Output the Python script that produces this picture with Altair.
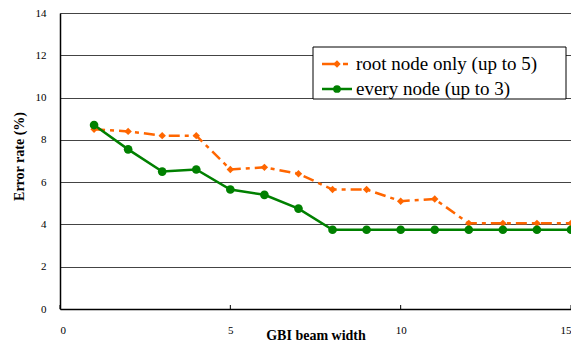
import altair as alt
import pandas as pd

beam = list(range(1, 16))
root_only = [8.5, 8.4, 8.2, 8.2, 6.6, 6.7, 6.4, 5.65, 5.65, 5.1, 5.2, 4.05, 4.05, 4.05, 4.05]
every_node = [8.7, 7.55, 6.5, 6.6, 5.65, 5.4, 4.75, 3.75, 3.75, 3.75, 3.75, 3.75, 3.75, 3.75, 3.75]
series_names = ["root node only (up to 5)", "every node (up to 3)"]
colors = ["#FF6600", "#008000"]
x_ticks = [0, 5, 10, 15]
y_ticks = [0, 2, 4, 6, 8, 10, 12, 14]

FONT = "Liberation Serif"
W, H = 511, 296

df_root = pd.DataFrame({"beam": beam, "err": root_only})
df_every = pd.DataFrame({"beam": beam, "err": every_node})

xs = alt.Scale(domain=[0, 15], nice=False)
ys = alt.Scale(domain=[0, 14], nice=False)
xax = alt.Axis(values=x_ticks, title="GBI beam width", grid=False, ticks=False,
               labelPadding=15, titleY=30, titleBaseline="alphabetic")
yax = alt.Axis(values=y_ticks, title="Error rate (%)", grid=True, ticks=False,
               labelPadding=14, titleX=-37, titleY=143, titleAngle=-90,
               titleAlign="center", titleBaseline="alphabetic")

base_x = alt.X("beam:Q", scale=xs, axis=xax)
base_y = alt.Y("err:Q", scale=ys, axis=yax)

root_line = alt.Chart(df_root).mark_line(color=colors[0], strokeWidth=2.5,
                                          strokeDash=[11, 5, 4, 5]).encode(x=base_x, y=base_y)
root_pts = alt.Chart(df_root).mark_point(shape="diamond", filled=True, color=colors[0],
                                         size=55, opacity=1).encode(x="beam:Q", y="err:Q")
every_line = alt.Chart(df_every).mark_line(color=colors[1], strokeWidth=2.5).encode(x="beam:Q", y="err:Q")
every_pts = alt.Chart(df_every).mark_circle(color=colors[1], size=75, opacity=1).encode(x="beam:Q", y="err:Q")

# inward x ticks
xtick_df = pd.DataFrame({"beam": x_ticks})
xticks = alt.Chart(xtick_df).mark_rule(color="black", strokeWidth=1).encode(
    x="beam:Q", y=alt.value(H - 4), y2=alt.value(H))

one = pd.DataFrame({"a": [0]})
box = alt.Chart(one).mark_rect(fill="white", stroke="black", strokeWidth=1).encode(
    x=alt.value(253), x2=alt.value(506), y=alt.value(34), y2=alt.value(86))
leg_layers = [box]
rows_y = [51, 76]
for i, name in enumerate(series_names):
    yy = rows_y[i]
    if i == 0:
        ln = alt.Chart(one).mark_rule(color=colors[0], strokeWidth=2.5, strokeDash=[16, 5, 5, 5]).encode(
            x=alt.value(262), x2=alt.value(292), y=alt.value(yy))
        pt = alt.Chart(one).mark_point(shape="diamond", filled=True, color=colors[0], size=55, opacity=1).encode(
            x=alt.value(277), y=alt.value(yy))
    else:
        ln = alt.Chart(one).mark_rule(color=colors[1], strokeWidth=2.5).encode(
            x=alt.value(262), x2=alt.value(292), y=alt.value(yy))
        pt = alt.Chart(one).mark_circle(color=colors[1], size=60, opacity=1).encode(
            x=alt.value(277), y=alt.value(yy))
    tx = alt.Chart(pd.DataFrame({"t": [name]})).mark_text(
        align="left", baseline="middle", font=FONT, fontSize=19, color="black").encode(
        x=alt.value(296), y=alt.value(yy), text="t:N")
    leg_layers += [ln, pt, tx]

chart = alt.layer(root_line, every_line, root_pts, every_pts, xticks, *leg_layers).properties(
    width=W, height=H,
    autosize=alt.AutoSizeParams(type="none"),
    padding={"left": 52, "top": 5, "right": 0, "bottom": 35},
    background="white",
).configure_view(stroke="#aaaaaa", strokeWidth=1).configure_axis(
    labelFont=FONT, titleFont=FONT, labelFontSize=11, titleFontSize=14,
    labelColor="black", titleColor="black", titleFontWeight="bold",
    domainColor="black", domainWidth=1.5, tickColor="black",
    gridColor="#444444", gridWidth=1,
)

chart.save("out.html", embed_options={"renderer": "svg", "actions": False})
